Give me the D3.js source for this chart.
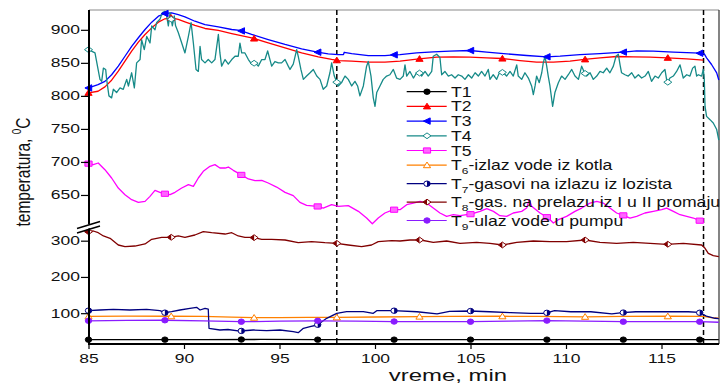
<!DOCTYPE html>
<html>
<head>
<meta charset="utf-8">
<script src="https://cdn.jsdelivr.net/npm/d3@7"></script>
<style>
  body { margin: 0; background: #fff; }
  svg { display: block; }
  text { font-family: "Liberation Sans", Arial, sans-serif; fill: #111; }
</style>
</head>
<body>
<svg id="chart" width="721" height="385"></svg>
<script>
// ---- time axis (minutes) ----
const timeDomain = [85, 118];
const xMajorTicks = [85, 90, 95, 100, 105, 110, 115];
const xMinorTicks = d3.range(85, 119, 1);

// ---- broken temperature axis (°C) ----
const upperDomain = [600, 930];
const lowerDomain = [15, 335];
const upperMajorTicks = [650, 700, 750, 800, 850, 900];
const upperMinorTicks = [625, 675, 725, 775, 825, 875, 925];
const lowerMajorTicks = [100, 200, 300];
const lowerMinorTicks = [50, 150, 250];

// event markers (min)
const eventTimes = [98.0, 117.2];

// marker times
const markEvery4 = [85, 89, 93, 97, 101, 105, 109, 113, 117];
const markEvery433 = [85, 89.33, 93.67, 98.0, 102.33, 106.67, 111.0, 115.33];

// ---- measured temperatures [minute, °C] ----
const T1 = [[85,27],[88,27],[91,27],[94,27.5],[97,27],[100,27],[103,27],[106,27],[109,27],[112,27],[115,27],[118,27]];

const T2 = [[85,804.6],[85.5,807],[85.86,813.6],[86.21,823.7],[86.56,837.4],[86.91,852.5],[87.26,867.7],[87.61,881.3],
  [87.96,892.9],[88.31,903],[88.66,911.6],[89.0,916.7],[89.35,918.2],[89.7,915.7],[90.05,912.1],[90.57,906.6],[91.1,902],
  [91.8,899],[92.5,894.4],[93.54,887.9],[94.41,880.3],[95.29,872.7],[96.16,865.1],[97.03,859.1],[97.73,855.1],[98.08,853.5],
  [98.78,852.5],[99.65,851],[100.52,851],[101.31,852.5],[102.3,856],[103.23,858.6],[104.1,859.1],[104.97,858.6],[105.85,857.6],
  [106.63,856.6],[107.59,853.5],[108.46,851],[109.34,851],[110.21,852.5],[110.96,855.1],[111.78,857.6],[112.65,859.6],
  [113.52,859.1],[114.4,858.6],[115.3,857.6],[116.32,856],[117.19,854]];

const T3 = [[85,812],[85.5,817],[85.86,822],[86.21,832],[86.56,845],[86.91,860],[87.26,875],[87.61,888],[87.96,900.5],
  [88.31,911.6],[88.66,920.7],[89.0,924.7],[89.35,925.8],[89.7,923],[90.05,919.7],[90.57,913],[91.1,908],[91.8,904.5],
  [92.5,900.5],[92.93,899],[93.54,893],[94.41,885.3],[95.29,877.8],[96.16,871.2],[96.98,866.2],[97.55,863.6],[98.08,862.6],
  [98.35,862.6],[98.39,866],[98.78,864],[99.65,861],[100.52,861],[101.0,862.1],[101.31,862.6],[102.18,865.1],[103.05,866.7],
  [103.92,867.7],[104.97,868.7],[105.85,866.2],[106.89,863.6],[107.94,861.1],[108.99,859.1],[109.69,860.1],[110.73,862.6],
  [111.78,864.1],[113.0,866.2],[113.7,868.2],[114.57,867.7],[115.62,866.2],[116.67,865.1],[117.0,864.6],[117.24,863.6],
  [117.36,857.6],[117.62,847.5],[117.89,834.9],[118.0,824]];

const T4 = [[85.0,870],[85.34,865],[85.6,825],[85.69,822],[85.78,842],[85.9,840],[85.95,825],[86.07,800],[86.21,797],
  [86.3,810],[86.47,805],[86.65,812],[86.82,810],[87.0,825],[87.09,815],[87.26,835],[87.4,812],[87.52,850],[87.7,855],
  [87.78,885],[87.92,870],[88.05,890],[88.22,880],[88.31,906],[88.48,900],[88.57,911],[88.74,916],[88.87,926],[89.0,928],
  [89.09,921],[89.18,906],[89.27,926],[89.39,906],[89.49,921],[89.56,906],[89.7,896],[89.88,880],[90.05,865],[90.23,890],
  [90.37,911],[90.49,880],[90.63,840],[90.75,837],[90.84,875],[90.92,855],[91.1,850],[91.27,855],[91.45,850],[91.62,855],
  [91.8,893],[91.88,865],[91.97,845],[92.15,855],[92.32,848],[92.5,855],[92.67,860],[92.84,860],[92.93,880],[93.02,865],
  [93.19,865],[93.37,855],[93.54,848],[93.72,850],[93.89,845],[94.07,855],[94.24,855],[94.38,868],[94.5,855],[94.59,845],
  [94.76,852],[94.94,850],[95.11,850],[95.29,855],[95.46,845],[95.55,840],[95.72,848],[95.9,870],[95.98,860],[96.12,840],
  [96.25,825],[96.42,830],[96.6,835],[96.77,840],[96.95,830],[97.12,825],[97.29,810],[97.47,815],[97.64,835],[97.73,850],
  [97.87,830],[97.94,825],[98.08,815],[98.25,820],[98.43,830],[98.6,825],[98.78,815],[98.95,822],[99.09,815],[99.21,800],
  [99.39,815],[99.56,845],[99.65,852],[99.79,830],[99.91,797],[100.0,784],[100.09,805],[100.26,815],[100.43,825],
  [100.61,830],[100.78,832],[100.96,840],[101.13,827],[101.31,825],[101.48,830],[101.57,847],[101.66,830],[101.83,837],
  [102.01,827],[102.18,835],[102.32,835],[102.44,830],[102.62,837],[102.79,830],[102.97,837],[103.05,860],[103.23,863],
  [103.4,858],[103.49,832],[103.66,837],[103.84,830],[104.01,832],[104.19,827],[104.36,832],[104.54,830],[104.71,825],
  [104.89,832],[105.06,827],[105.24,835],[105.41,830],[105.58,837],[105.76,830],[105.93,840],[106.02,825],[106.19,832],
  [106.37,825],[106.54,837],[106.72,835],[106.89,830],[107.07,837],[107.24,830],[107.42,847],[107.5,830],[107.68,825],
  [107.85,835],[108.03,827],[108.2,815],[108.29,802],[108.38,815],[108.46,830],[108.6,820],[108.73,835],[108.81,850],
  [108.9,860],[108.99,845],[109.07,830],[109.16,815],[109.3,784],[109.42,805],[109.6,820],[109.77,830],[109.95,825],
  [110.12,832],[110.3,840],[110.47,830],[110.65,825],[110.82,845],[110.94,837],[111.08,830],[111.26,835],[111.43,825],
  [111.61,830],[111.78,837],[111.95,835],[112.13,842],[112.3,835],[112.48,845],[112.62,860],[112.74,863],[112.83,847],
  [112.91,835],[113.09,832],[113.26,830],[113.44,835],[113.61,827],[113.79,832],[113.96,827],[114.14,830],[114.31,837],
  [114.48,822],[114.66,830],[114.83,827],[115.01,835],[115.18,840],[115.3,819],[115.44,827],[115.62,830],[115.79,837],
  [115.97,847],[116.14,827],[116.32,832],[116.49,830],[116.63,842],[116.75,845],[116.84,830],[116.93,832],[117.1,830],
  [117.19,840],[117.24,825],[117.28,784],[117.36,769],[117.54,764],[117.71,759],[117.89,749],[118.0,733]];

const T5 = [[85,697.4],[85.25,695.9],[85.51,698.4],[85.86,688.3],[86.21,675.7],[86.56,660.5],[86.91,650.4],[87.26,642.9],
  [87.61,638.8],[87.96,640.3],[88.22,647.9],[88.48,657],[88.74,654],[88.97,652],[89.27,650.4],[89.53,654],[89.88,660.5],
  [90.23,665.6],[90.49,663],[90.75,675.7],[91.01,685.8],[91.36,693.4],[91.62,695.9],[91.88,690.8],[92.15,690.8],
  [92.32,692.3],[92.58,687.3],[92.98,680.7],[93.37,674.2],[93.72,671.6],[94.07,672.1],[94.41,668.1],[94.85,662],
  [95.29,654],[95.72,649],[96.07,638.8],[96.42,634.3],[96.98,632.8],[97.29,630.2],[97.73,635.3],[98.08,632.8],
  [98.6,633.8],[99.13,625.2],[99.56,615.1],[99.86,606.5],[100.17,615.1],[100.52,622.7],[100.96,627.7],[101.31,627.7],
  [101.66,635.3],[102.01,637.8],[102.36,640.3],[102.7,637.8],[103.05,630.2],[103.4,622.7],[103.75,617.6],[104.1,620.1],
  [104.45,618.6],[104.8,620.1],[105.06,621.2],[105.5,625.2],[105.85,629.2],[106.2,625.2],[106.54,618.6],[106.89,617.6],
  [107.24,622.7],[107.68,625.2],[107.94,630.2],[108.08,642.9],[108.2,632.8],[108.64,622.7],[109.07,615.1],[109.34,607.5],
  [109.6,612.6],[110.03,617.6],[110.47,625.2],[110.82,630.2],[111.26,637.8],[111.61,640.3],[111.95,637.8],[112.3,630.2],
  [112.65,622.7],[113.0,619.1],[113.35,615.1],[113.7,617.6],[114.13,622.7],[114.57,625.2],[115.01,627.7],[115.27,630.2],
  [115.62,625.2],[115.97,620.1],[116.32,617.6],[116.67,615.1],[117.0,611.1],[117.22,607.5]];

const T6 = [[85,91],[87,92],[89.33,91.5],[91,91],[92.5,89],[93.67,87.5],[95,88],[96.5,88.5],[98.0,88.5],[100,89.5],
  [102.33,90.5],[104,91],[106.67,91.5],[108.5,91],[111.0,90],[113,91],[115.33,91.5],[117.2,91],[117.6,88],[118,86]];

const T7 = [[85,107],[85.6,108.8],[86.3,110.6],[87.17,108.8],[88.04,110.6],[88.74,107],[89.0,101.4],[89.35,104.2],
  [89.79,108.8],[90.31,113.4],[90.66,116.1],[90.84,108.8],[91.1,113.4],[91.27,111.5],[91.31,58.2],[91.88,53.6],
  [92.3,55],[92.93,50.8],[93.63,53.6],[94.33,51.8],[95.03,53.6],[95.72,49.0],[95.98,46.3],[96.25,58.2],[96.6,62.8],
  [96.98,67.4],[97.47,85.8],[98.0,99.6],[98.51,104.2],[99.39,104.2],[99.91,99.6],[100.09,107],[100.96,107],[102.2,104],
  [103.25,98],[103.9,105],[104.95,106],[106.0,104],[107.1,101.5],[108.15,99.5],[108.9,99.5],[109.4,107],[110.25,104],
  [111.3,104],[112.4,98],[112.95,101.5],[113.65,104],[114.9,104],[116.4,104],[116.95,102.5],[117.35,92],[117.8,86],[118,85]];

const T8 = [[85,324.8],[85.25,326.7],[85.51,322],[85.78,313],[86.13,306.6],[86.56,288.1],[86.91,283.4],[87.43,285.3],
  [87.96,290.9],[88.31,303.8],[88.83,309.3],[89.32,309.3],[89.7,313],[90.05,309.3],[90.57,315.7],[91.01,324.8],
  [91.45,322],[92.15,318.4],[92.5,322],[92.84,313],[93.19,309.3],[93.59,309.3],[94.07,303.8],[94.59,303.8],[95.29,301.9],
  [95.98,294.4],[96.68,297.2],[97.38,294.4],[97.99,292.8],[98.6,288.1],[99.3,283.4],[99.82,288.1],[100.17,297.2],
  [100.87,300],[101.31,299.1],[101.83,301.9],[102.39,301.9],[103.05,295.5],[103.75,299.1],[104.45,292.8],[105.32,295.5],
  [106.02,292.8],[106.68,288.1],[107.42,295.5],[108.29,299.1],[109.16,297.2],[110.03,297.2],[111.0,301.9],[111.78,295.5],
  [112.65,292.8],[113.52,295.5],[114.4,292.8],[115.27,290],[116.14,292.8],[117.1,288.1],[117.28,279],[117.45,265.2],
  [117.71,258.6],[118.0,255.8]];

const T9 = [[85,79],[87,80],[89,80.5],[91,79],[93,76.5],[95,78],[97,79],[99,78],[101,77],[103,77],[105,76.5],[107,78],
  [109,79.5],[111,78],[113,76.5],[115,77],[117,76.5],[118,75]];

// ---- legend captions ----
const legendLabels = [
  { main: "T1" }, { main: "T2" }, { main: "T3" }, { main: "T4" }, { main: "T5" },
  { main: "T", sub: "6", rest: "-izlaz vode iz kotla" },
  { main: "T", sub: "7", rest: "-gasovi na izlazu iz lozista" },
  { main: "T", sub: "8", rest: "-gas. na prelazu iz I u II promaju" },
  { main: "T", sub: "9", rest: "-ulaz vode u pumpu" }
];

// ---- series styling ----
const series = [
  { data: T1, axis: "lo", color: "#000000", marker: "circle",  fill: "#000000", marks: markEvery4 },
  { data: T2, axis: "hi", color: "#ff0000", marker: "triUp",   fill: "#ff0000", marks: markEvery433 },
  { data: T3, axis: "hi", color: "#0000ff", marker: "triLeft", fill: "#0000ff", marks: markEvery4 },
  { data: T4, axis: "hi", color: "#168a88", marker: "diamond", fill: "#ffffff", marks: markEvery433 },
  { data: T5, axis: "hi", color: "#ff00ff", marker: "square",  fill: "#ff66ff", marks: markEvery4 },
  { data: T6, axis: "lo", color: "#ff8000", marker: "triUp",   fill: "#ffffff", marks: markEvery433 },
  { data: T7, axis: "lo", color: "#000080", marker: "halfCircle", fill: "#ffffff", marks: markEvery4 },
  { data: T8, axis: "lo", color: "#800000", marker: "halfDiamond", fill: "#ffffff", marks: markEvery433 },
  { data: T9, axis: "lo", color: "#8a1cff", marker: "circle",  fill: "#8a1cff", marks: markEvery4 }
];

const svg = d3.select("#chart");
const x = d3.scaleLinear().domain(timeDomain).range([88.5, 718.8]);
const yHi = d3.scaleLinear().domain(upperDomain).range([228, 10]);
const yLo = d3.scaleLinear().domain(lowerDomain).range([344, 228]);
const yOf = s => s.axis === "hi" ? yHi : yLo;

const SX = 1.4; // horizontal stretch of lettering

// value of a series at time t (linear between samples)
function valueAt(data, t) {
  const i = d3.bisector(d => d[0]).left(data, t);
  if (i <= 0) return data[0][1];
  if (i >= data.length) return data[data.length - 1][1];
  const a = data[i - 1], b = data[i];
  return a[1] + (b[1] - a[1]) * (t - a[0]) / (b[0] - a[0]);
}

// marker glyphs (small, slightly wider than tall)
function markerPath(kind) {
  switch (kind) {
    case "circle": case "halfCircle":
      return "M-3.2,0A3.2,2.7 0 1,0 3.2,0A3.2,2.7 0 1,0 -3.2,0Z";
    case "triUp": return "M-3.6,2.5L3.6,2.5L0,-3.2Z";
    case "triLeft": return "M-3.6,0L3.2,-3.2L3.2,3.2Z";
    case "diamond": case "halfDiamond": return "M-4,0L0,-2.9L4,0L0,2.9Z";
    case "square": return "M-3.6,-2.6H3.6V2.6H-3.6Z";
  }
}
function drawMarker(g, s, px, py) {
  const m = g.append("g").attr("transform", `translate(${px},${py})`);
  m.append("path").attr("d", markerPath(s.marker))
    .attr("fill", s.fill).attr("stroke", s.color).attr("stroke-width", 1);
  if (s.marker === "halfCircle")
    m.append("path").attr("d", "M0,-2.7A3.2,2.7 0 0,1 0,2.7Z").attr("fill", s.color);
  if (s.marker === "halfDiamond")
    m.append("path").attr("d", "M-4,0L0,-2.9L0,2.9Z").attr("fill", s.color);
}

// ---- frame ----
svg.append("line").attr("x1", 89).attr("x2", 719).attr("y1", 10).attr("y2", 10)
  .attr("stroke", "#8a8a8a").attr("stroke-width", 1.2);
svg.append("line").attr("x1", 719).attr("x2", 719).attr("y1", 10).attr("y2", 344)
  .attr("stroke", "#333").attr("stroke-width", 1.2);

// ---- event lines ----
svg.selectAll("line.event").data(eventTimes).join("line").attr("class", "event")
  .attr("x1", d => x(d)).attr("x2", d => x(d)).attr("y1", 10).attr("y2", 344)
  .attr("stroke", "#000").attr("stroke-width", 1.5).attr("stroke-dasharray", "5,3");

// ---- series ----
const line = s => d3.line().x(d => x(d[0])).y(d => yOf(s)(d[1]));
const plot = svg.append("g");
series.forEach(s => {
  plot.append("path").datum(s.data).attr("d", line(s))
    .attr("fill", "none").attr("stroke", s.color).attr("stroke-width", 1.3)
    .attr("stroke-linejoin", "round");
});
series.forEach(s => {
  s.marks.forEach(t => drawMarker(plot, s, x(t), yOf(s)(valueAt(s.data, t))));
});

// ---- axes ----
function stretchLabels(g, dx) {
  g.selectAll(".tick text").attr("transform", `scale(${SX},1)`);
  if (dx !== undefined) g.selectAll(".tick text").attr("x", dx / SX);
}
const axisFont = g => g.selectAll(".tick text").attr("font-size", 12.5).attr("fill", "#111")
  .attr("font-family", '"Liberation Sans", Arial, sans-serif');

const gx = svg.append("g").attr("transform", "translate(0,344)");
gx.call(d3.axisBottom(x).tickValues(xMinorTicks).tickSize(4).tickFormat(""));
gx.call(d3.axisBottom(x).tickValues(xMajorTicks).tickSize(5).tickPadding(5).tickFormat(d3.format("d")));
gx.selectAll(".domain").remove();
axisFont(gx); stretchLabels(gx);
gx.selectAll(".tick line").attr("stroke", "#000").attr("stroke-width", 1.2);
svg.append("line").attr("x1", 88).attr("x2", 719).attr("y1", 344).attr("y2", 344)
  .attr("stroke", "#000").attr("stroke-width", 2);

function yAxis(scale, major, minor) {
  const g = svg.append("g").attr("transform", "translate(89,0)");
  g.call(d3.axisLeft(scale).tickValues(minor).tickSize(5).tickFormat(""));
  g.call(d3.axisLeft(scale).tickValues(major).tickSize(8).tickPadding(1).tickFormat(d3.format("d")));
  g.selectAll(".domain").remove();
  axisFont(g); stretchLabels(g, -9);
  g.selectAll(".tick line").attr("stroke", "#000").attr("stroke-width", 1.2);
}
yAxis(yHi, upperMajorTicks, upperMinorTicks);
yAxis(yLo, lowerMajorTicks, lowerMinorTicks);
svg.append("line").attr("x1", 89).attr("x2", 89).attr("y1", 10).attr("y2", 345)
  .attr("stroke", "#000").attr("stroke-width", 2);

// axis break
const brk = svg.append("g").attr("stroke", "#000").attr("stroke-width", 1.4);
brk.append("line").attr("x1", 83).attr("x2", 95).attr("y1", 228).attr("y2", 224.5).attr("stroke", "#fff").attr("stroke-width", 4);
brk.append("line").attr("x1", 77).attr("x2", 100).attr("y1", 228.5).attr("y2", 221.5);
brk.append("line").attr("x1", 77).attr("x2", 100).attr("y1", 233).attr("y2", 226);

// ---- axis titles ----
const yt = svg.append("g").attr("transform", "translate(30,172) rotate(-90) scale(1,1.3)")
  .append("text").attr("text-anchor", "middle").attr("font-size", 15.5);
yt.append("tspan").text("temperatura, ");
yt.append("tspan").attr("font-size", 10).attr("dy", -7).text("0");
yt.append("tspan").attr("dy", 7).text("C");

svg.append("g").attr("transform", "translate(448,381) scale(1.45,1)")
  .append("text").attr("text-anchor", "middle").attr("font-size", 16.5).text("vreme, min");

// ---- legend ----
const rowY = i => i < 6 ? 91.7 + i * 14.7 : 165.3 + (i - 5) * 18.4;
const leg = svg.append("g");
series.forEach((s, i) => {
  const yy = rowY(i);
  leg.append("line").attr("x1", 406.7).attr("x2", 446.7).attr("y1", yy).attr("y2", yy)
    .attr("stroke", s.color).attr("stroke-width", 1.2);
  drawMarker(leg, s, 427, yy);
  const lab = legendLabels[i];
  const t = leg.append("g").attr("transform", `translate(451,${yy + 5}) scale(1.26,1)`)
    .append("text").attr("font-size", 14);
  t.append("tspan").text(lab.main);
  if (lab.sub) {
    t.append("tspan").attr("font-size", 9.5).attr("dy", 4).text(lab.sub);
    t.append("tspan").attr("dy", -4).text(lab.rest);
  }
});
</script>
</body>
</html>
